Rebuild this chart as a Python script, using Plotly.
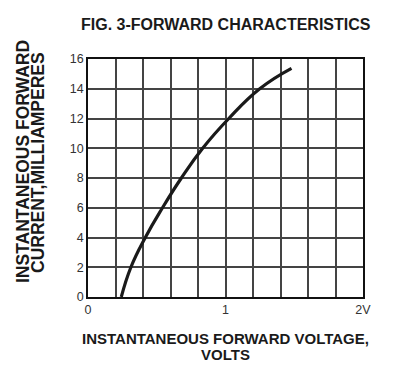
import plotly.graph_objects as go

# Curve (volts, milliamperes)
voltage = [0.242, 0.312, 0.417, 0.542, 0.679, 0.834, 1.024, 1.249, 1.48]
current = [0.0, 2.0, 4.0, 6.0, 8.0, 10.0, 12.0, 14.0, 15.37]

x_tick_vals = [0, 0.2, 0.4, 0.6, 0.8, 1.0, 1.2, 1.4, 1.6, 1.8, 2.0]
x_tick_text = ["0", "", "", "", "", "1", "", "", "", "", "2V"]
y_tick_vals = [0, 2, 4, 6, 8, 10, 12, 14, 16]
y_tick_text = ["0", "2", "4", "6", "8", "10", "12", "14", "16"]

title_text = "FIG. 3-FORWARD CHARACTERISTICS"
x_title_lines = ["INSTANTANEOUS FORWARD VOLTAGE,", "VOLTS"]
y_title_lines = ["INSTANTANEOUS FORWARD", "CURRENT,MILLIAMPERES"]

FONT = "Arial, Liberation Sans, sans-serif"
GRID = "#444444"
TEXT = "#1a1a1a"

fig = go.Figure()
fig.add_trace(go.Scatter(
    x=voltage, y=current, mode="lines",
    line=dict(color=TEXT, width=3.2, shape="spline", smoothing=1.3),
    hoverinfo="skip", showlegend=False,
))

# page body adds an 8px margin, so the figure is 8px smaller than the window
fig.update_layout(
    width=393, height=367,
    margin=dict(l=80, r=38, t=51, b=78),
    paper_bgcolor="white", plot_bgcolor="white",
    font=dict(family=FONT, color="#333"),
    xaxis=dict(
        range=[0, 2], tickmode="array", tickvals=x_tick_vals, ticktext=x_tick_text,
        showgrid=True, gridcolor=GRID, gridwidth=1.5,
        showline=True, mirror=True, linecolor="#111", linewidth=1.5,
        zeroline=False, ticks="", tickfont=dict(size=12.5, color="#333"),
        fixedrange=True,
    ),
    yaxis=dict(
        range=[0, 16], tickmode="array", tickvals=y_tick_vals, ticktext=y_tick_text,
        showgrid=True, gridcolor=GRID, gridwidth=1.5,
        showline=True, mirror=True, linecolor="#111", linewidth=1.5,
        zeroline=False, ticks="", tickfont=dict(size=12.5, color="#333"),
        fixedrange=True,
    ),
)

ann = []
ann.append(dict(text="<b>" + title_text + "</b>", xref="paper", yref="paper",
                x=0.5, y=1, yshift=35, xanchor="center", yanchor="middle",
                showarrow=False, font=dict(size=16, family=FONT, color=TEXT)))
# x title: two lines
ann.append(dict(text="<b>" + x_title_lines[0] + "</b>", xref="paper", yref="paper",
                x=0.5, y=0, yshift=-41, xanchor="center", yanchor="middle",
                showarrow=False, font=dict(size=15, family=FONT, color=TEXT)))
ann.append(dict(text="<b>" + x_title_lines[1] + "</b>", xref="paper", yref="paper",
                x=0.5, y=0, yshift=-57.5, xanchor="center", yanchor="middle",
                showarrow=False, font=dict(size=15, family=FONT, color=TEXT)))
# y title: two vertical lines
ann.append(dict(text="<b>" + y_title_lines[0] + "</b>", xref="paper", yref="paper",
                x=0, y=0.5, xshift=-65, yshift=16, xanchor="center", yanchor="middle",
                textangle=-90, showarrow=False,
                font=dict(size=17.5, family=FONT, color=TEXT)))
ann.append(dict(text="<b>" + y_title_lines[1] + "</b>", xref="paper", yref="paper",
                x=0, y=0.5, xshift=-50.5, yshift=15.5, xanchor="center", yanchor="middle",
                textangle=-90, showarrow=False,
                font=dict(size=17.5, family=FONT, color=TEXT)))
fig.update_layout(annotations=ann)

fig.write_html("out.html")
